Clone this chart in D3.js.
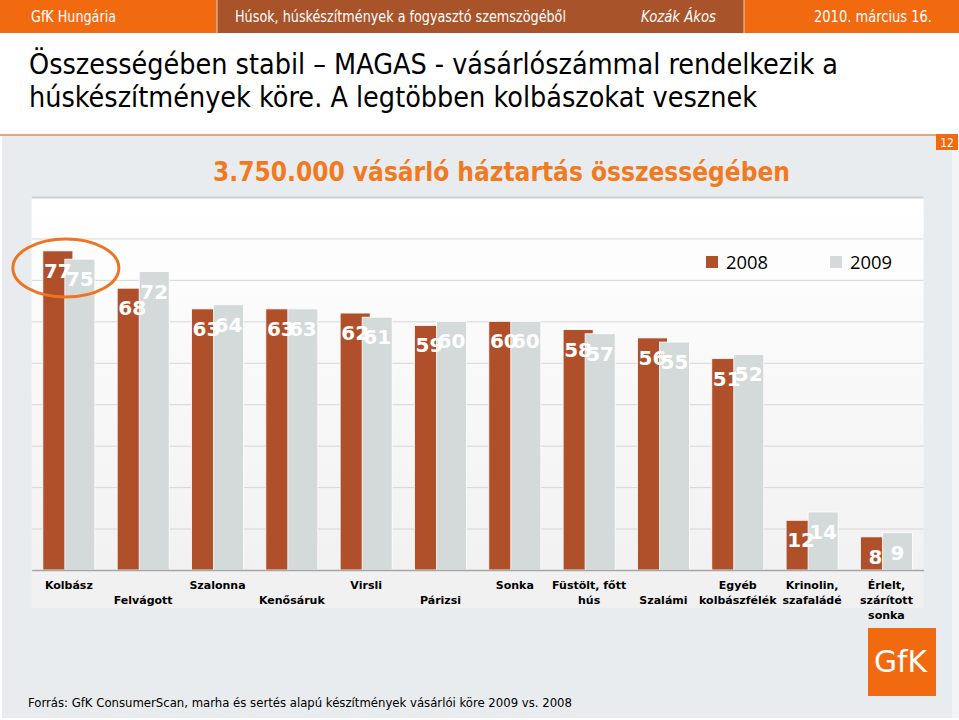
<!DOCTYPE html>
<html><head><meta charset="utf-8">
<script src="https://cdn.jsdelivr.net/npm/d3@7"></script>
<style>body{margin:0;background:#fff}svg{display:block}</style>
</head><body>
<svg id="c" width="959" height="720"></svg>
<script>
// ---- data ----
const categories = ["Kolbász","\nFelvágott","Szalonna","\nKenősáruk","Virsli","\nPárizsi","Sonka","Füstölt, főtt\nhús","\nSzalámi","Egyéb\nkolbászfélék","Krinolin,\nszafaládé","Érlelt,\nszárított\nsonka"];
const seriesNames = ["2008","2009"];
const values2008 = [77,68,63,63,62,59,60,58,56,51,12,8];
const values2009 = [75,72,64,63,61,60,60,57,55,52,14,9];
const yTicks = [10,20,30,40,50,60,70,80,90];
const headerTexts = ["GfK Hungária","Húsok, húskészítmények a fogyasztó szemszögéből","Kozák Ákos","2010.  március 16."];
const titleLines = ["Összességében stabil – MAGAS - vásárlószámmal rendelkezik a","húskészítmények köre. A legtöbben kolbászokat vesznek"];
const subtitle = "3.750.000 vásárló háztartás összességében";
const sourceText = "Forrás: GfK ConsumerScan, marha és sertés alapú készítmények vásárlói köre 2009 vs. 2008";
const pageNo = "12";

// ---- style ----
const C08 = "#B0502A", C09 = "#D4D9DA", ORANGE = "#F26A10", BROWN = "#A9532B";
const TAH = "'DejaVu Sans Condensed','DejaVu Sans',sans-serif";
const svg = d3.select("#c");

// header
svg.append("rect").attr("x",0).attr("y",0).attr("width",959).attr("height",33).attr("fill",ORANGE);
svg.append("rect").attr("x",217).attr("y",0).attr("width",527).attr("height",33).attr("fill",BROWN);
svg.append("line").attr("x1",217).attr("x2",217).attr("y1",0).attr("y2",33).attr("stroke","#f3c9a8");
svg.append("line").attr("x1",744).attr("x2",744).attr("y1",0).attr("y2",33).attr("stroke","#f3c9a8");
const hdr = [[31,85,"normal"],[235,331,"normal"],[641,75,"italic"],[814,118,"normal"]];
headerTexts.forEach((t,i)=>{
  svg.append("text").attr("x",hdr[i][0]).attr("y",22).attr("fill","#fff")
    .attr("font-family",TAH).attr("font-size",15).attr("font-style",hdr[i][2])
    .attr("textLength",hdr[i][1]).attr("lengthAdjust","spacingAndGlyphs").text(t);
});

// title
titleLines.forEach((t,i)=>{
  svg.append("text").attr("x",29).attr("y",[74,107][i]).attr("fill","#000")
    .attr("font-family",TAH).attr("font-size",28)
    .attr("textLength",[809,728][i]).attr("lengthAdjust","spacingAndGlyphs").text(t);
});

// panel
svg.append("rect").attr("x",2).attr("y",136).attr("width",950).attr("height",582).attr("fill","#E9ECEE");
svg.append("rect").attr("x",952).attr("y",136).attr("width",7).attr("height",582).attr("fill","#F3F4F5");
svg.append("line").attr("x1",0).attr("x2",936).attr("y1",135).attr("y2",135).attr("stroke","#E2A478").attr("stroke-width",2);
svg.append("rect").attr("x",936).attr("y",134).attr("width",22).attr("height",16).attr("fill",ORANGE);
svg.append("text").attr("x",947).attr("y",147).attr("text-anchor","middle").attr("fill","#fff")
  .attr("font-family",TAH).attr("font-size",12).text(pageNo);

svg.append("text").attr("x",213).attr("y",181).attr("fill","#F07A22")
  .attr("font-family",TAH).attr("font-size",26).attr("font-weight","bold")
  .attr("textLength",577).attr("lengthAdjust","spacingAndGlyphs").text(subtitle);

// chart area
const L = 31.7, R = 923.6, T = 197, B = 570;
const defs = svg.append("defs");
const grad = defs.append("linearGradient").attr("id","bg").attr("x1",0).attr("x2",0).attr("y1",0).attr("y2",1);
grad.append("stop").attr("offset","0%").attr("stop-color","#FFFFFF");
grad.append("stop").attr("offset","100%").attr("stop-color","#F0F0F0");
svg.append("rect").attr("x",L).attr("y",T).attr("width",R-L).attr("height",608-T).attr("fill","url(#bg)");

const x = d3.scaleBand().domain(d3.range(categories.length)).range([L,R]);
const y = d3.scaleLinear().domain([0,90]).range([B,T]);
const step = x.step();
const barW = step*0.404, off = step*0.296;
const pad = (step-(barW+off))/2;

const grid = svg.append("g").attr("transform",`translate(${L},0)`)
  .call(d3.axisLeft(y).tickValues(yTicks).tickSize(-(R-L)).tickFormat(""));
grid.select(".domain").remove();
grid.selectAll(".tick line").attr("stroke","#D6D6D6").attr("stroke-width",1);
grid.selectAll(".tick").filter(d=>d===90).select("line").attr("stroke","#CFCFCF").attr("stroke-width",2);

const gBars = svg.append("g");
gBars.selectAll(".b08").data(values2008).join("rect")
  .attr("x",(d,i)=>x(i)+pad).attr("y",d=>y(d)).attr("width",barW).attr("height",d=>B-y(d))
  .attr("fill",C08).attr("stroke","#fff").attr("stroke-width",0.8);
gBars.selectAll(".b09").data(values2009).join("rect")
  .attr("x",(d,i)=>x(i)+pad+off).attr("y",d=>y(d)).attr("width",barW).attr("height",d=>B-y(d))
  .attr("fill",C09).attr("stroke","#fff").attr("stroke-width",0.8);

const gx = svg.append("g").attr("transform",`translate(0,${B})`)
  .call(d3.axisBottom(x).tickSize(0).tickFormat(""));
gx.select(".domain").attr("stroke","#A6A6A6").attr("stroke-width",1.5);
gx.selectAll(".tick").each(function(d){
  const lines = categories[d].split("\n");
  const t = d3.select(this).append("text").attr("fill","#000").attr("text-anchor","middle")
    .attr("font-family","'DejaVu Sans',sans-serif").attr("font-size",11).attr("font-weight","bold");
  lines.forEach((ln,k)=>{
    t.append("tspan").attr("x",0).attr("y",19+k*14.8).text(ln);
  });
});

// value labels
const gl = svg.append("g").attr("font-family","'DejaVu Sans',sans-serif").attr("font-size",20)
  .attr("font-weight","bold").attr("fill","#fff").attr("text-anchor","middle");
gl.selectAll(".l08").data(values2008).join("text")
  .attr("x",(d,i)=>x(i)+pad+barW/2).attr("y",d=>y(d)+27).text(d=>d);
gl.selectAll(".l09").data(values2009).join("text")
  .attr("x",(d,i)=>x(i)+pad+off+barW/2).attr("y",d=>y(d)+27).text(d=>d);

// legend
const lg = svg.append("g");
seriesNames.forEach((s,i)=>{
  const lx = [706,830][i];
  lg.append("rect").attr("x",lx).attr("y",256).attr("width",12).attr("height",12).attr("fill",[C08,C09][i]);
  lg.append("text").attr("x",lx+20).attr("y",269).attr("font-family","'Open Sans',sans-serif")
    .attr("font-size",19).attr("fill","#000").attr("textLength",42).attr("lengthAdjust","spacingAndGlyphs").text(s);
});

// highlight ellipse
svg.append("ellipse").attr("cx",x(0)+pad+(barW+off)/2-3).attr("cy",268).attr("rx",53).attr("ry",29)
  .attr("fill","none").attr("stroke","#EE7424").attr("stroke-width",3);

// logo
svg.append("rect").attr("x",868).attr("y",628).attr("width",68).attr("height",68).attr("fill",ORANGE);
svg.append("text").attr("x",874).attr("y",672).attr("fill","#fff").attr("font-family",TAH)
  .attr("font-size",30).attr("textLength",53).attr("lengthAdjust","spacingAndGlyphs").text("GfK");

// source
svg.append("text").attr("x",28).attr("y",707).attr("fill","#000").attr("font-family",TAH)
  .attr("font-size",13).attr("textLength",544).attr("lengthAdjust","spacingAndGlyphs").text(sourceText);
</script>
</body></html>
